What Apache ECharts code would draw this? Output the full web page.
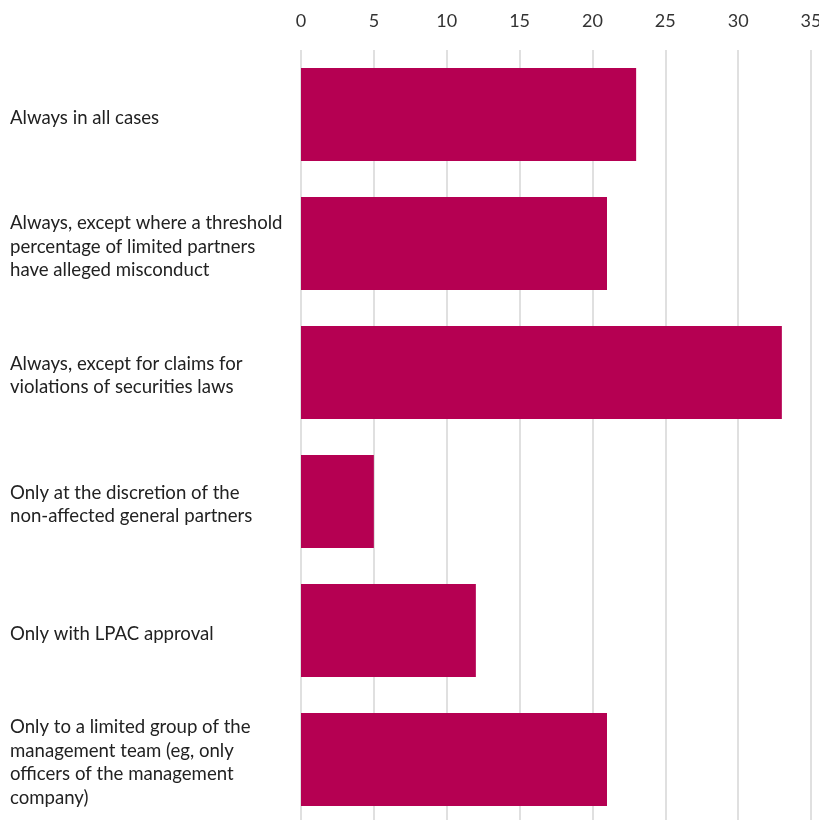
<!DOCTYPE html>
<html>
<head>
<meta charset="utf-8">
<script src="https://cdn.jsdelivr.net/npm/echarts@6/dist/echarts.min.js"></script>
<style>html,body{margin:0;padding:0;background:#fff}#c{width:819px;height:820px}</style>
</head>
<body>
<div id="c"></div>
<script>
var categories = [
  "Always in all cases",
  "Always, except where a threshold\npercentage of limited partners\nhave alleged misconduct",
  "Always, except for claims for\nviolations of securities laws",
  "Only at the discretion of the\nnon-affected general partners",
  "Only with LPAC approval",
  "Only to a limited group of the\nmanagement team (eg, only\nofficers of the management\ncompany)"
];
var values = [23, 21, 33, 5, 12, 21];
var xTicks = { min: 0, max: 35, interval: 5 };

var chart = echarts.init(document.getElementById('c'));
chart.setOption({
  animation: false,
  grid: { left: 301, right: 8, top: 50, height: 774, containLabel: false, outerBoundsMode: 'none' },
  xAxis: {
    type: 'value', position: 'top',
    min: xTicks.min, max: xTicks.max, interval: xTicks.interval,
    axisLine: { show: false }, axisTick: { show: false },
    splitLine: { show: true, lineStyle: { color: '#d6d6d6', width: 1.5 } },
    axisLabel: { color: '#333', fontSize: 18, fontFamily: 'Lato', margin: 20, hideOverlap: false }
  },
  yAxis: {
    type: 'category', inverse: true, data: categories,
    axisLine: { show: false }, axisTick: { show: false },
    axisLabel: {
      align: 'left', margin: 291, color: '#222', fontSize: 18.6, fontFamily: 'Lato', lineHeight: 23.5,
      formatter: function (v) {
        return '{s|}\n' + v.split('\n').map(function (l) { return '{a|' + l + '}'; }).join('\n');
      },
      rich: {
        s: { lineHeight: 6, fontSize: 6 },
        a: { color: '#222', fontSize: 18.6, fontFamily: 'Lato', lineHeight: 23.5 }
      }
    }
  },
  series: [{
    type: 'bar', data: values, barWidth: 93,
    itemStyle: { color: '#B50052' }
  }]
});
</script>
</body>
</html>
